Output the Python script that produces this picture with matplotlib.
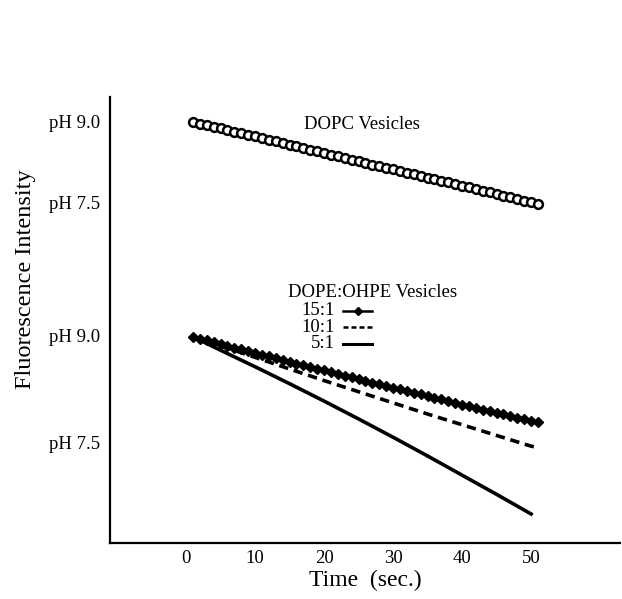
import numpy as np
import matplotlib
matplotlib.use("Agg")
import matplotlib.pyplot as plt

plt.rcParams["font.family"] = ["Liberation Serif", "DejaVu Serif"]

# ---- data (y in arbitrary intensity units) ----
t_dopc = list(range(1, 52))
dopc = [9.44, 9.40, 9.37, 9.33, 9.29, 9.26, 9.22, 9.18, 9.15, 9.11,
        9.07, 9.03, 9.00, 8.96, 8.92, 8.89, 8.85, 8.81, 8.78, 8.74,
        8.70, 8.67, 8.63, 8.59, 8.56, 8.52, 8.48, 8.45, 8.41, 8.37,
        8.33, 8.30, 8.26, 8.22, 8.19, 8.15, 8.11, 8.08, 8.04, 8.00,
        7.97, 7.93, 7.89, 7.86, 7.82, 7.78, 7.75, 7.71, 7.67, 7.64,
        7.60]

t_15 = list(range(1, 52))
ratio_15 = [4.62, 4.58, 4.54, 4.50, 4.46, 4.42, 4.38, 4.34, 4.30, 4.26,
            4.22, 4.18, 4.14, 4.10, 4.06, 4.02, 3.98, 3.94, 3.91, 3.87,
            3.83, 3.79, 3.75, 3.71, 3.67, 3.63, 3.59, 3.56, 3.52, 3.48,
            3.44, 3.40, 3.37, 3.33, 3.29, 3.25, 3.22, 3.18, 3.14, 3.10,
            3.07, 3.03, 2.99, 2.96, 2.92, 2.88, 2.85, 2.81, 2.78, 2.74,
            2.71]

t_10 = [1, 5, 10, 15, 20, 25, 30, 35, 40, 45, 50, 51]
ratio_10 = [4.62, 4.42, 4.16, 3.90, 3.64, 3.39, 3.14, 2.89, 2.65, 2.41, 2.17, 2.14]

t_5 = [1, 5, 10, 15, 20, 25, 30, 35, 40, 45, 50]
ratio_5 = [4.62, 4.32, 3.95, 3.57, 3.18, 2.78, 2.37, 1.95, 1.52, 1.09, 0.65]

ytick_pos = [9.44, 7.62, 4.66, 2.26]
ytick_labels = ["pH 9.0", "pH 7.5", "pH 9.0", "pH 7.5"]
xticks = [0, 10, 20, 30, 40, 50]

FS = 13.5

fig = plt.figure(figsize=(6.22, 5.99), dpi=100)
ax = fig.add_axes([0.177, 0.0935, 0.82, 0.745])

ax.plot(t_dopc, dopc, color="black", lw=1.8, marker="o", ms=6.3,
        mfc="white", mec="black", mew=1.8)
ax.plot(t_15, ratio_15, color="black", lw=2.4, marker="D", ms=5.2)
ax.plot(t_10, ratio_10, color="black", lw=2.6, dashes=(2.6, 1.6))
ax.plot(t_5, ratio_5, color="black", lw=2.6)

ax.set_xlim(-11, 62.9)
ax.set_ylim(0, 10)
ax.set_xticks(xticks)
ax.set_yticks(ytick_pos)
ax.set_yticklabels(ytick_labels)
ax.tick_params(axis="both", length=0, labelsize=FS)
ax.tick_params(axis="x", pad=5)
ax.tick_params(axis="y", pad=7)
for s in ("top", "right"):
    ax.spines[s].set_visible(False)
for s in ("left", "bottom"):
    ax.spines[s].set_linewidth(1.6)

ax.set_xlabel("Time  (sec.)", fontsize=17, labelpad=2)
ax.set_ylabel("Fluorescence Intensity", fontsize=17.5, labelpad=8)
ax.yaxis.set_label_coords(-0.145, 0.592)

# annotations / hand-made legend
ax.text(0.494, 0.937, "DOPC Vesicles", transform=ax.transAxes,
        ha="center", va="center", fontsize=FS)
ax.text(0.514, 0.561, "DOPE:OHPE Vesicles", transform=ax.transAxes,
        ha="center", va="center", fontsize=FS)
leg_rows = [("15:1", 0.520), ("10:1", 0.484), ("5:1", 0.446)]
for lab, yy in leg_rows:
    ax.text(0.441, yy, lab, transform=ax.transAxes, ha="right",
            va="center", fontsize=FS)
ax.plot([0.457, 0.514], [0.520, 0.520], transform=ax.transAxes,
        color="black", lw=1.8)
ax.plot([0.4855], [0.520], transform=ax.transAxes, color="black",
        marker="D", ms=4)
ax.plot([0.457, 0.514], [0.484, 0.484], transform=ax.transAxes,
        color="black", lw=1.8, dashes=(2.0, 1.2))
ax.plot([0.457, 0.514], [0.446, 0.446], transform=ax.transAxes,
        color="black", lw=2.2)

fig.savefig("out.png", dpi=100, facecolor="white")
